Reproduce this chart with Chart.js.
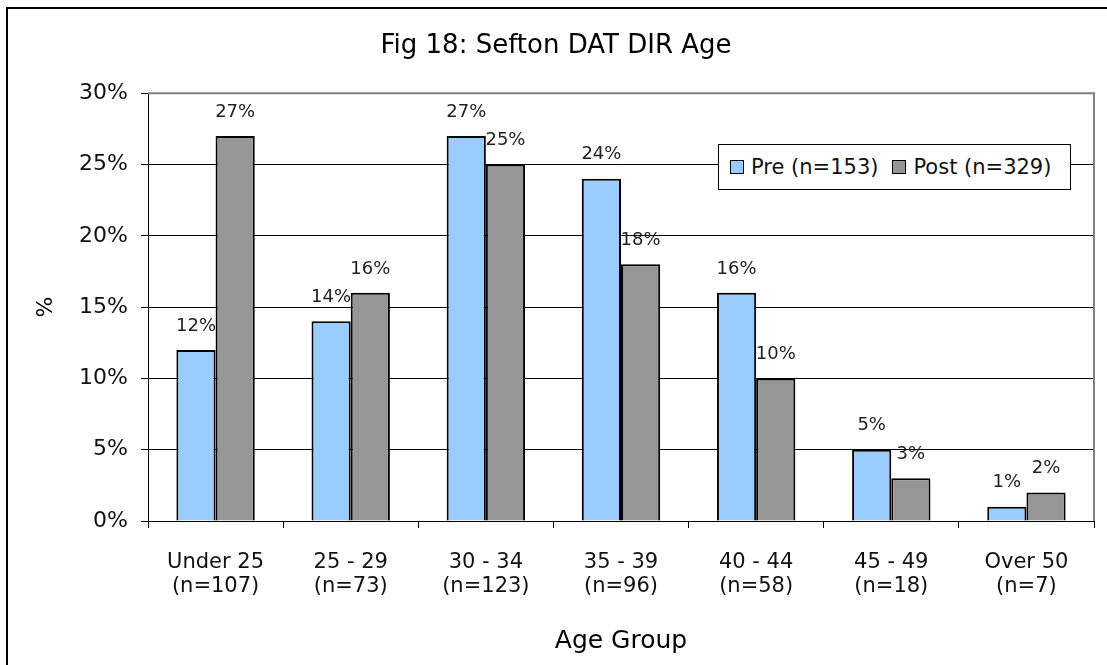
<!DOCTYPE html>
<html>
<head>
<meta charset="utf-8">
<script src="https://cdn.jsdelivr.net/npm/chart.js@4.4.1/dist/chart.umd.min.js"></script>
<style>
  html, body { margin: 0; padding: 0; background: #fff; overflow: hidden; }
  #wrap { position: relative; width: 1107px; height: 665px; }
  #frame { position: absolute; left: 6px; top: 7px; width: 1300px; height: 900px; border: 2px solid #000; pointer-events: none; }
  #legend { position: absolute; left: 718px; top: 144px; width: 340px; height: 44px; border: 1px solid #000; background: #fff;
    font-family: "DejaVu Sans", sans-serif; font-size: 21px; color: #111; display: flex; align-items: center; padding-left: 11px; box-sizing: content-box; white-space: nowrap; }
  #legend span.box { display: inline-block; width: 12px; height: 12px; border: 1px solid #000; margin-right: 7px; }
  #legend span.item { margin-right: 14px; display: flex; align-items: center; }
</style>
</head>
<body>
<div id="wrap">
  <canvas id="myChart" width="1107" height="665"></canvas>
  <div id="frame"></div>
  <div id="legend"></div>
</div>
<script>
// chart data
var ageGroups = [
  ["Under 25", "(n=107)"],
  ["25 - 29", "(n=73)"],
  ["30 - 34", "(n=123)"],
  ["35 - 39", "(n=96)"],
  ["40 - 44", "(n=58)"],
  ["45 - 49", "(n=18)"],
  ["Over 50", "(n=7)"]
];
var seriesNames = ["Pre (n=153)", "Post (n=329)"];
var preValues = [12, 14, 27, 24, 16, 5, 1];
var postValues = [27, 16, 25, 18, 10, 3, 2];
var yTicks = [0, 5, 10, 15, 20, 25, 30];

var colours = ["#99ccff", "#969696"];
var fontName = "'DejaVu Sans', sans-serif";

// legend box drawn as html, sits over the plot like the excel one
var legendHtml = "";
for (var i = 0; i < seriesNames.length; i++) {
  legendHtml += '<span class="item"><span class="box" style="background:' + colours[i] + '"></span>' + seriesNames[i] + '</span>';
}
document.getElementById("legend").innerHTML = legendHtml;

var valueLabels = {
  id: "valueLabels",
  afterDatasetsDraw: function (chart) {
    var ctx = chart.ctx;
    ctx.save();
    ctx.font = "18px " + fontName;
    ctx.fillStyle = "#222";
    ctx.textAlign = "center";
    ctx.textBaseline = "middle";
    chart.data.datasets.forEach(function (ds, di) {
      chart.getDatasetMeta(di).data.forEach(function (bar, idx) {
        ctx.fillText(ds.data[idx] + "%", bar.x, bar.y - 24);
      });
    });
    ctx.restore();
  }
};

var plotBorder = {
  id: "plotBorder",
  afterDraw: function (chart) {
    var a = chart.chartArea, ctx = chart.ctx;
    ctx.save();
    ctx.strokeStyle = "#808080";
    ctx.lineWidth = 2;
    ctx.beginPath();
    ctx.moveTo(a.left, a.top);
    ctx.lineTo(a.right, a.top);
    ctx.lineTo(a.right, a.bottom);
    ctx.stroke();
    ctx.restore();
  }
};

var ctx = document.getElementById("myChart").getContext("2d");
var myChart = new Chart(ctx, {
  type: "bar",
  data: {
    labels: ageGroups,
    datasets: [{
      label: seriesNames[0],
      data: preValues,
      backgroundColor: colours[0],
      borderColor: "#000",
      borderWidth: 2,
      borderSkipped: "bottom"
    }, {
      label: seriesNames[1],
      data: postValues,
      backgroundColor: colours[1],
      borderColor: "#000",
      borderWidth: 2,
      borderSkipped: "bottom"
    }]
  },
  options: {
    responsive: false,
    animation: false,
    layout: { padding: { left: 18, right: 13, top: 0, bottom: 0 } },
    datasets: { bar: { categoryPercentage: 0.58, barPercentage: 1.0 } },
    plugins: {
      legend: { display: false },
      tooltip: { enabled: false },
      title: {
        display: true,
        text: "Fig 18: Sefton DAT DIR Age",
        color: "#000",
        font: { family: fontName, size: 26, weight: "normal" },
        padding: { top: 31, bottom: 31 }
      }
    },
    scales: {
      x: {
        grid: { display: true, drawOnChartArea: false, drawTicks: true, tickLength: 7, color: "#000", offset: true },
        border: { color: "#000", width: 1 },
        ticks: { color: "#111", font: { family: fontName, size: 21, lineHeight: 1.15 }, padding: 22, maxRotation: 0 },
        title: { display: true, text: "Age Group", color: "#000", font: { family: fontName, size: 25 }, padding: { top: 8, bottom: 9 } },
        afterFit: function (scale) { scale.height = 144; }
      },
      y: {
        min: 0,
        max: 30,
        afterBuildTicks: function (scale) {
          scale.ticks = yTicks.map(function (v) { return { value: v }; });
        },
        grid: { color: "#000", lineWidth: 1, tickLength: 7 },
        border: { color: "#000", width: 1 },
        ticks: {
          color: "#111",
          font: { family: fontName, size: 22 },
          padding: 13,
          callback: function (v) { return v + "%"; }
        },
        title: { display: true, text: "%", color: "#000", font: { family: fontName, size: 22 }, padding: { top: 15, bottom: 0 } },
        afterFit: function (scale) { scale.width = 130; }
      }
    }
  },
  plugins: [valueLabels, plotBorder]
});
</script>
</body>
</html>
